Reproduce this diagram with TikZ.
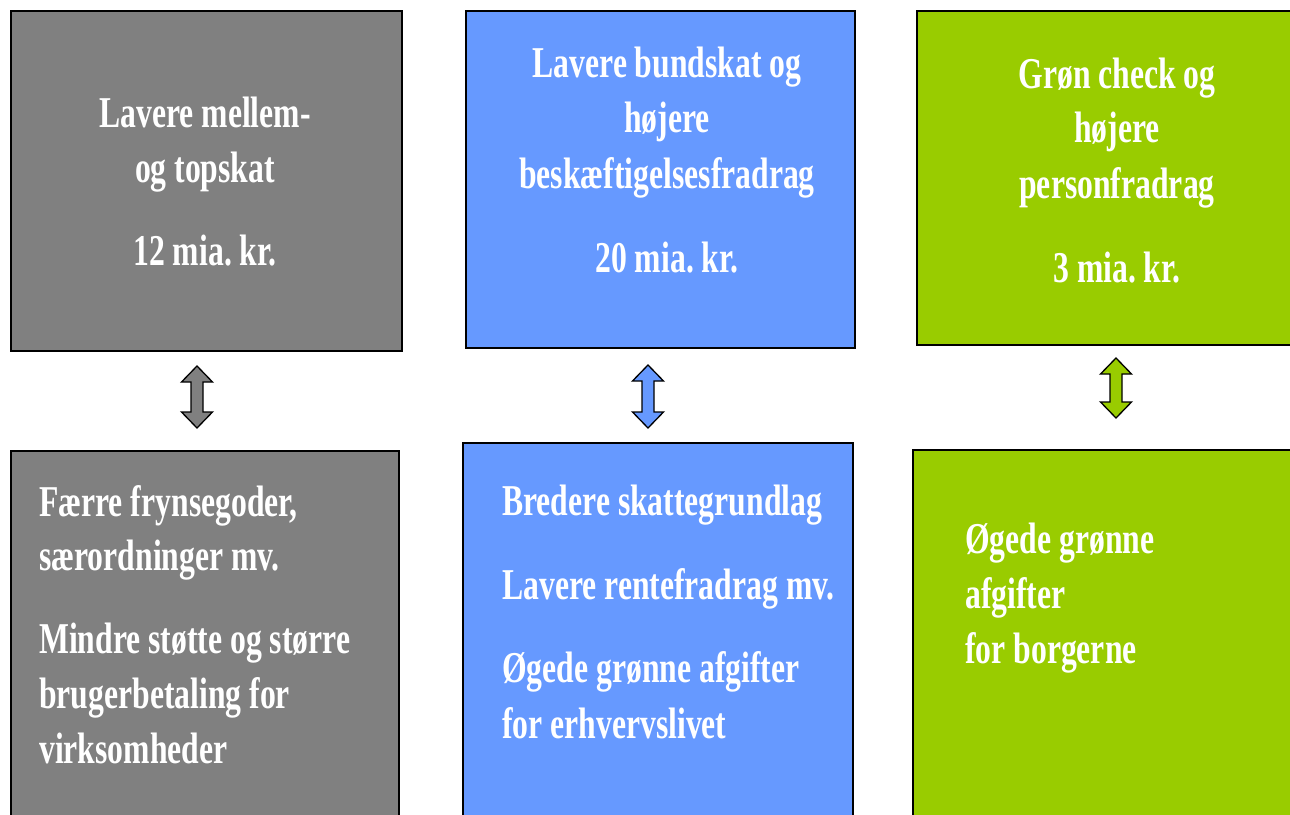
\documentclass[tikz,border=0pt]{standalone}
\usepackage{fontspec}
\newfontfamily\tnr[FakeStretch=0.72]{Liberation Serif}
\frenchspacing
\definecolor{boxgray}{HTML}{808080}
\definecolor{boxblue}{HTML}{6699FF}
\definecolor{boxgreen}{HTML}{99CC00}
\tikzset{
  panel/.style={draw=black, line width=1.4pt},
  txt/.style={text=white, font=\tnr\bfseries\fontsize{44}{55}\selectfont\frenchspacing, inner sep=0pt},
  ctxt/.style={txt, anchor=base},
  ltxt/.style={txt, anchor=base west},
  dblarrow/.style={draw=black, line width=1.3pt, line join=miter},
}
% double block arrow: #1 colour, #2 centre x, #3 top y, #4 bottom y
\newcommand\blockarrow[4]{%
  \draw[dblarrow, fill=#1] (#2,#3) -- (#2+15.5,#3+16) -- (#2+6,#3+16) -- (#2+6,#4-16)
    -- (#2+15.5,#4-16) -- (#2,#4) -- (#2-15.5,#4-16) -- (#2-6,#4-16) -- (#2-6,#3+16)
    -- (#2-15.5,#3+16) -- cycle;}
\begin{document}
\begin{tikzpicture}[x=1pt,y=-1pt]
\useasboundingbox (0,0) rectangle (1290,814);
\clip (0,0) rectangle (1290,814);
% top boxes
\draw[panel, fill=boxgray]  (11,11) rectangle (402,351);
\draw[panel, fill=boxblue]  (466,11) rectangle (855,348);
\draw[panel, fill=boxgreen] (917,11) rectangle (1300,345);
% bottom boxes
\draw[panel, fill=boxgray]  (11,451) rectangle (399,830);
\draw[panel, fill=boxblue]  (463,443) rectangle (853,830);
\draw[panel, fill=boxgreen] (913,450) rectangle (1300,830);
% arrows
\blockarrow{boxgray}{197}{366}{428}
\blockarrow{boxblue}{648}{365}{428}
\blockarrow{boxgreen}{1116}{358}{418}
% top-left text
\node[ctxt] (a1) at (205,127) {Lavere mellem-};
\node[ctxt] (a2) at (205,182) {og topskat};
\node[ctxt] (a3) at (205,265) {12 mia. kr.};
% top-middle text
\node[ctxt] (b1) at (667,77) {Lavere bundskat og};
\node[ctxt] (b2) at (667,132) {højere};
\node[ctxt] (b3) at (667,188) {beskæftigelsesfradrag};
\node[ctxt] (b4) at (667,272) {20 mia. kr.};
% top-right text
\node[ctxt] (c1) at (1117,88) {Grøn check og};
\node[ctxt] (c2) at (1117,142) {højere};
\node[ctxt] (c3) at (1117,198) {personfradrag};
\node[ctxt] (c4) at (1117,282) {3 mia. kr.};
% bottom-left text
\node[ltxt] (d1) at (39,516) {Færre frynsegoder,};
\node[ltxt] (d2) at (39,570) {særordninger mv.};
\node[ltxt] (d3) at (39,653) {Mindre støtte og større};
\node[ltxt] (d4) at (39,708) {brugerbetaling for};
\node[ltxt] (d5) at (39,763) {virksomheder};
% bottom-middle text
\node[ltxt] (e1) at (502,515) {Bredere skattegrundlag};
\node[ltxt] (e2) at (502,599) {Lavere rentefradrag mv.};
\node[ltxt] (e3) at (502,682) {Øgede grønne afgifter};
\node[ltxt] (e4) at (502,738) {for erhvervslivet};
% bottom-right text
\node[ltxt] (f1) at (965,553) {Øgede grønne};
\node[ltxt] (f2) at (965,608) {afgifter};
\node[ltxt] (f3) at (965,663) {for borgerne};
\end{tikzpicture}
\end{document}
